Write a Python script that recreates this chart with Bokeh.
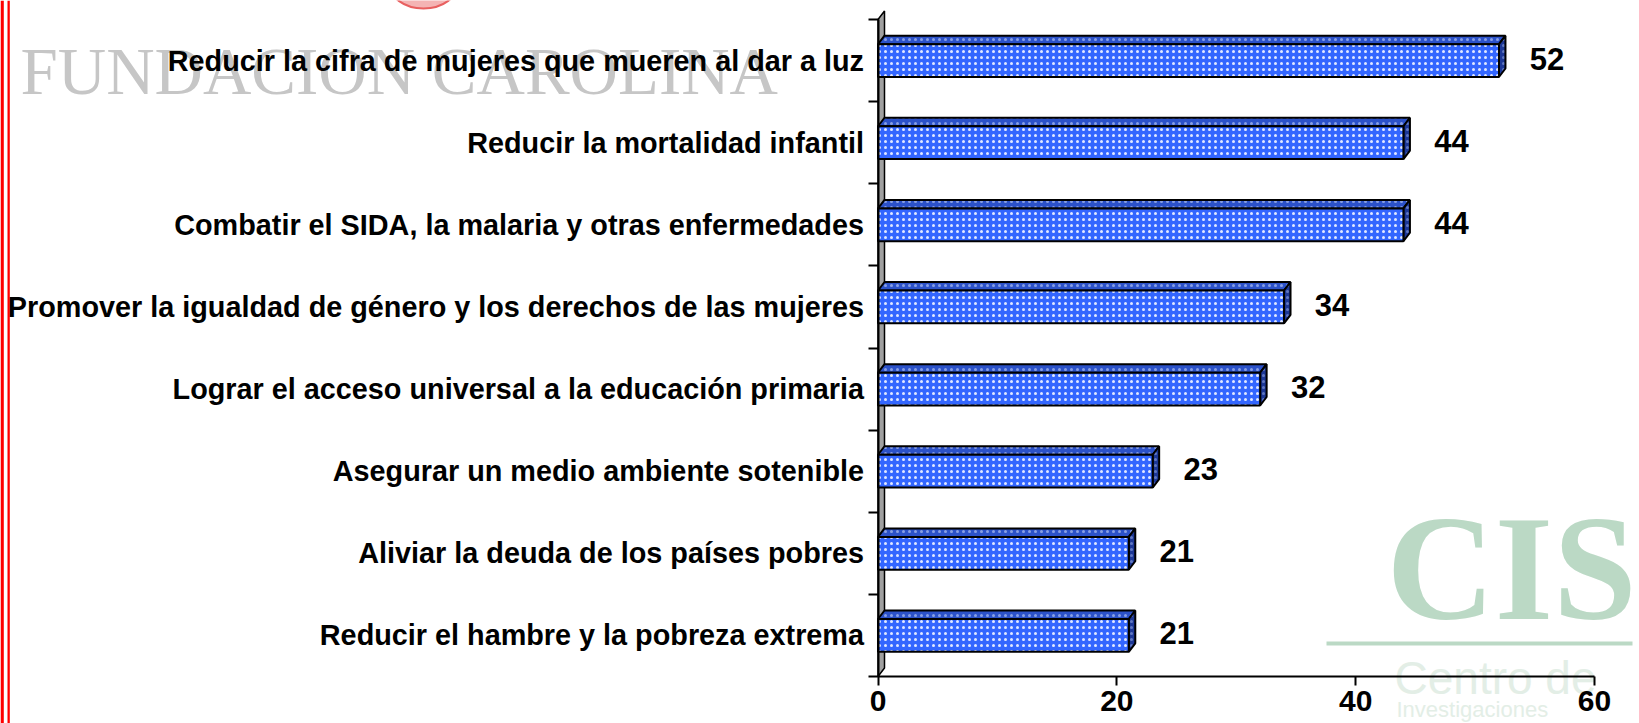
from bokeh.plotting import figure
from bokeh.models import Range1d, FixedTicker, ColumnDataSource
from bokeh.embed import file_html
from bokeh.resources import INLINE
from bokeh.core.properties import value

categories = [
    "Reducir la cifra de mujeres que mueren al dar a luz",
    "Reducir la mortalidad infantil",
    "Combatir el SIDA, la malaria y otras enfermedades",
    "Promover la igualdad de género y los derechos de las mujeres",
    "Lograr el acceso universal a la educación primaria",
    "Asegurar un medio ambiente sotenible",
    "Aliviar la deuda de los países pobres",
    "Reducir el hambre y la pobreza extrema",
]
values = [52, 44, 44, 34, 32, 23, 21, 21]
x_ticks = [0, 20, 40, 60]

W, H = 1639, 723
n = len(categories)
ys = [n - 1 - i for i in range(n)]

# layout geometry in canvas pixels
X0, PX_X = 877.5, (1594 - 877.5) / 60.0     # canvas x of value 0, px per unit
AXY, PX_Y = 676.0, (676.0 - 19.0) / n       # canvas y of the x axis, px per category band
BASE_SHIFT = 0.34                            # empirical baseline correction (em)


def x_of(sx):
    return (sx - X0) / PX_X


def y_of(sy):
    return -0.5 + (AXY - sy) / PX_Y


def base_y(sy, fs):
    return y_of(sy - BASE_SHIFT * fs)


p = figure(width=W, height=H, output_backend="svg", toolbar_location=None,
           x_range=Range1d(x_of(0), x_of(W)), y_range=Range1d(y_of(H), y_of(0)),
           min_border_left=0, min_border_right=0, min_border_top=0, min_border_bottom=0)
p.outline_line_color = None
p.xgrid.visible = False
p.ygrid.visible = False
p.background_fill_color = "white"
p.border_fill_color = "white"

dx = 6.5 / PX_X
dy = 8.5 / PX_Y
hh = 0.20

# ---- background decorations (logos / watermarks)
p.quad(left=[x_of(0), x_of(7)], right=[x_of(3.3), x_of(9.3)], top=[y_of(0)] * 2,
       bottom=[y_of(H)] * 2, fill_color="#FF0000", line_color=None)
p.ellipse(x=[x_of(423)], y=[y_of(-18)], width=70 / PX_X, height=52 / PX_Y,
          fill_color="#F4B4B4", line_color="#E86060", line_width=2)
p.text(x=[x_of(20)], y=[base_y(93, 67)], text=["FUNDACION CAROLINA"],
       text_font=value("Liberation Serif"), text_font_size="67px", text_color="#C6C6C6",
       text_align="left", text_baseline="alphabetic")
p.text(x=[x_of(1386)], y=[base_y(618, 150)], text=["CIS"],
       text_font=value("Liberation Serif"), text_font_style="bold", text_font_size="150px",
       text_color="#BBD9C5", text_align="left", text_baseline="alphabetic")
p.quad(left=[x_of(1326)], right=[x_of(1632)], top=[y_of(641)], bottom=[y_of(645)],
       fill_color="#BBD9C5", line_color=None)
p.text(x=[x_of(1394)], y=[base_y(693, 46)], text=["Centro de"],
       text_font=value("Liberation Sans"), text_font_size="46px", text_color="#E3EEE6",
       text_align="left", text_baseline="alphabetic")
p.text(x=[x_of(1396)], y=[base_y(716, 22)], text=["Investigaciones"],
       text_font=value("Liberation Sans"), text_font_size="22px", text_color="#E3EEE6",
       text_align="left", text_baseline="alphabetic")

# ---- axis wall (3D)
p.patch(x=[0, dx, dx, 0], y=[-0.5, -0.5 + dy, n - 0.5 + dy, n - 0.5],
        fill_color="#A0A0A0", line_color="black", line_width=1.5)

# ---- bars
src = ColumnDataSource(dict(y=ys, v=values, t=[str(v) for v in values]))
top_xs = [[0, v, v + dx, dx] for v in values]
top_ys = [[y + hh, y + hh, y + hh + dy, y + hh + dy] for y in ys]
side_xs = [[v, v + dx, v + dx, v] for v in values]
side_ys = [[y - hh, y - hh + dy, y + hh + dy, y + hh] for y in ys]

p.patches(xs=top_xs, ys=top_ys, fill_color="#2C52C9", line_color="black", line_width=2,
          hatch_pattern="dot", hatch_color="#AFC0F0", hatch_scale=6, hatch_weight=1.4, hatch_alpha=0.7)
p.patches(xs=side_xs, ys=side_ys, fill_color="#1C3796", line_color="black", line_width=2,
          hatch_pattern="dot", hatch_color="#8FA4E0", hatch_scale=6, hatch_weight=1.4, hatch_alpha=0.6)
p.hbar(y="y", left=0, right="v", height=2 * hh, source=src, fill_color="#3366FF",
       line_color="black", line_width=2, hatch_pattern="dot", hatch_color="white",
       hatch_scale=6, hatch_weight=1.5, hatch_alpha=0.85)

p.text(x="v", y="y", text="t", source=src, x_offset=48, y_offset=-2,
       text_align="center", text_baseline="middle", text_font=value("Liberation Sans"),
       text_font_style="bold", text_font_size="31px", text_color="black")

# ---- y axis (category labels, ticks between bands)
ya = p.yaxis[0]
ya.fixed_location = 0
ya.ticker = FixedTicker(ticks=ys, minor_ticks=[k - 0.5 for k in range(n + 1)])
ya.major_label_overrides = {y: c for y, c in zip(ys, categories)}
ya.major_tick_out = 0
ya.major_tick_in = 0
ya.minor_tick_out = 10
ya.minor_tick_in = 0
ya.minor_tick_line_color = "black"
ya.minor_tick_line_width = 2
ya.axis_line_width = 2
ya.axis_line_color = "black"
ya.bounds = (-0.5, n - 0.5)
ya.major_label_standoff = 4
ya.major_label_text_font = "Liberation Sans"
ya.major_label_text_font_style = "bold"
ya.major_label_text_font_size = "28.8px"
ya.major_label_text_color = "black"

# ---- x axis
xa = p.xaxis[0]
xa.fixed_location = -0.5
xa.ticker = FixedTicker(ticks=x_ticks, minor_ticks=[])
xa.bounds = (x_ticks[0], x_ticks[-1])
xa.major_tick_out = 9
xa.major_tick_in = 0
xa.major_tick_line_width = 2
xa.axis_line_width = 2
xa.axis_line_color = "black"
xa.major_label_standoff = 5
xa.major_label_text_font = "Liberation Sans"
xa.major_label_text_font_style = "bold"
xa.major_label_text_font_size = "30px"
xa.major_label_text_color = "black"

open("out.html", "w").write(file_html(p, INLINE))
